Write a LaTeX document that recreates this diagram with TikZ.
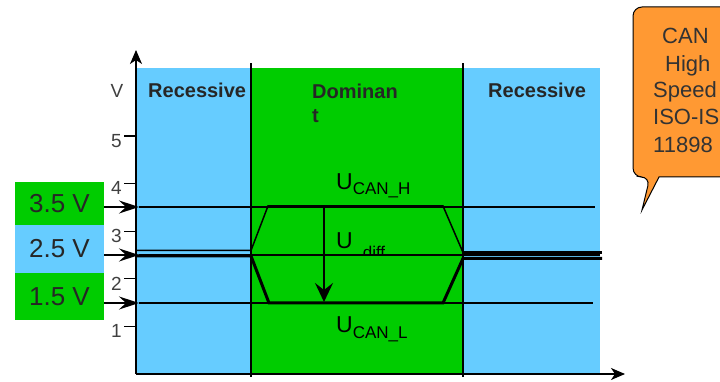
\documentclass[tikz,border=0pt]{standalone}
\usepackage{fontspec}
\setmainfont{Liberation Sans}
\usetikzlibrary{arrows.meta}
\definecolor{recblue}{HTML}{66CCFF}
\definecolor{domgreen}{HTML}{00CC00}
\definecolor{bubble}{HTML}{FF9933}
\newcommand{\fsz}[1]{\fontsize{#1}{#1}\selectfont}

\begin{document}
\begin{tikzpicture}[x=1pt,y=1pt,
	zone/.style={font=\fsz{20}\bfseries,anchor=base west,inner sep=0,text=black!85},
	lvl/.style={minimum width=89pt,font=\fsz{26},inner sep=0,text=black!85},
	ulab/.style={font=\fsz{23},anchor=base west,inner sep=0},
	ticklab/.style={font=\fsz{19},inner sep=0,text=black!75},
	bubtxt/.style={font=\fsz{22},anchor=base west,inner sep=0,text=black!80},
	sig/.style={line width=2.5pt},
	tip/.style={-{Stealth[length=20pt,width=13pt,inset=7pt]}}]
	\useasboundingbox (0,0) rectangle (720,382);
	% bus states
	\fill[recblue] (137,9) rectangle (251,314);
	\fill[domgreen] (251,9) rectangle (463,314);
	\fill[recblue] (463,9) rectangle (600,314);
	\node[zone] (rec1) at (148,284) {Recessive};
	\node[zone] (dom1) at (312,283) {Dominan};
	\node[zone] (dom2) at (312,259) {t};
	\node[zone] (rec2) at (488,284) {Recessive};
	\node[ulab] (uh) at (336,192) {U\raisebox{-5pt}{\fsz{17}CAN\_H}};
	\node[ulab] (ud) at (336,133) {U\raisebox{-10pt}{\fsz{17}\hspace{10pt}diff}};
	\fill[domgreen] (355,110) rectangle (400,127);
	\node[ulab] (ul) at (336,49) {U\raisebox{-6pt}{\fsz{17}CAN\_L}};
	\draw[line width=1.2pt] (251,5) -- (251,319);
	\draw[line width=1.2pt] (463,5) -- (463,319);
	% axes
	\coordinate (o) at (136,8);
	\draw[line width=1.5pt,-{Stealth[length=14pt,width=12pt,inset=4pt]}] (o) -- (136,332);
	\draw[line width=1.5pt,-{Stealth[length=14pt,width=12pt,inset=4pt]}] (o) -- (625,8);
	\node[ticklab] (vlab) at (117,291) {V};
	\foreach \v in {1,...,5} {
		\draw[line width=1.3pt] (124,{8+47.6*\v}) -- ++(12,0);
		\node[ticklab,anchor=north east] (t\v) at (122,{10+47.6*\v}) {\v};
	}
	% levels
	\node[lvl,fill=domgreen,minimum height=43pt] (b35) at (59.5,178.5) {3.5 V};
	\node[lvl,fill=recblue,minimum height=48pt] (b25) at (59.5,133) {2.5 V};
	\node[lvl,fill=domgreen,minimum height=47pt] (b15) at (59.5,85.5) {1.5 V};
	\coordinate (a35) at (139,175);
	\coordinate (a25) at (139,127);
	\coordinate (a15) at (139,79);
	\foreach \l in {35,25,15}
		\draw[tip,line width=2pt] (b\l.east |- a\l) -- (a\l);
	\draw[sig] (a35) -- (595,175);
	\draw[sig] (a15) -- (593,79);
	\draw[line width=2.5pt] (a25) -- (600,127);
	% CAN_H and CAN_L
	\draw[line width=1.5pt] (136,131.5) -- (251,131.5) -- (268,176) -- (443,176) -- (463,129.5);
	\draw[line width=3pt] (463,129.5) -- (602,129.5);
	\draw[line width=3pt] (136,126) -- (251,126) -- (269,79) -- (443,79) -- (463,123.5) -- (602,123.5);
	\draw[line width=2pt,-{Stealth[length=19pt,width=18pt,inset=7pt]}] (324,176) -- (324,80);
	% callout
	\begin{scope}
		\clip (0,0) rectangle (720,382);
		\draw[fill=bubble,line width=1pt] (633,290) [rounded corners=9pt] -- (633,205) -- (650,205) [sharp corners] -- (642,172) -- (659,205) [rounded corners=9pt] -- (740,205) -- (740,375) -- (633,375) -- cycle;
	\end{scope}
	\node[bubtxt] (c1) at (662,338) {CAN};
	\node[bubtxt] (c2) at (665,310) {High};
	\node[bubtxt] (c3) at (653,284) {Speed};
	\node[bubtxt] (c4) at (653,257) {ISO-IS};
	\node[bubtxt] (c5) at (653,229) {11898};
\end{tikzpicture}
\end{document}
